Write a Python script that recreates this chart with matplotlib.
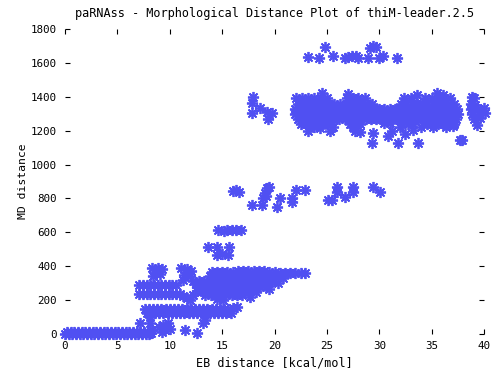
import matplotlib
matplotlib.use("Agg")
import matplotlib.pyplot as plt

# ---------------- data (EB distance, MD distance) ----------------
band_zero = [(0.0, 0), (0.35, 0), (0.7, 0), (1.05, 0), (1.4, 0), (1.75, 0), (2.1, 0), (2.45, 0),
             (2.8, 0), (3.15, 0), (3.5, 0), (3.85, 0), (4.2, 0), (4.55, 0), (4.9, 0), (5.25, 0),
             (5.6, 0), (5.95, 0), (6.3, 0), (6.65, 0), (7.0, 0), (7.35, 0), (7.7, 0), (8.0, 0),
             (8.2, 5),
             (0.2, 12), (0.55, 12), (0.9, 12), (1.25, 12), (1.6, 12), (1.95, 12), (2.3, 12),
             (2.65, 12), (3.0, 12), (3.35, 12), (3.7, 12), (4.05, 12), (4.4, 12), (4.75, 12),
             (5.1, 12), (5.45, 12), (5.8, 12), (6.15, 12), (6.5, 12), (6.85, 12), (7.2, 12),
             (7.55, 12), (7.9, 12)]

low_scatter = [(7.2, 63), (8.1, 63), (8.3, 24), (9.4, 53), (9.5, 24), (9.8, 65), (9.3, 12),
               (11.5, 24), (12.6, 6), (13.2, 65), (13.4, 83), (8.1, 100), (9.0, 40), (10.0, 30)]

band_135 = [(7.6, 150), (8.0, 150), (8.4, 150), (8.8, 150), (9.2, 150), (9.6, 150), (10.0, 150),
            (10.4, 150), (10.8, 150), (11.2, 150), (11.6, 150), (12.0, 150), (12.4, 150),
            (12.8, 150), (13.2, 150), (13.6, 150), (14.0, 150), (14.4, 150), (14.8, 150),
            (15.2, 150), (15.6, 150), (16.0, 155), (16.4, 160),
            (7.8, 122), (8.2, 122), (8.6, 122), (9.0, 122), (9.4, 122), (9.8, 122), (10.2, 122),
            (10.6, 122), (11.0, 122), (11.4, 122), (11.8, 122), (12.2, 122), (12.6, 122),
            (13.0, 122), (13.4, 122), (13.8, 122), (14.2, 122), (14.6, 122), (15.0, 122),
            (15.4, 122), (15.8, 125),
            (8.0, 136), (9.0, 136), (10.0, 136), (11.0, 136), (12.0, 136), (13.0, 136),
            (14.0, 136), (15.0, 136)]

band_240 = [(7.1, 238), (7.45, 238), (7.8, 238), (8.15, 238), (8.5, 238), (8.85, 238),
            (9.2, 238), (9.55, 238), (9.9, 238), (10.25, 238), (10.6, 238), (10.95, 238),
            (11.3, 225), (11.6, 210), (11.9, 200), (12.2, 230)]

band_290 = [(7.1, 290), (7.45, 290), (7.8, 290), (8.15, 290), (8.5, 290), (8.85, 290),
            (9.2, 290), (9.55, 290), (9.9, 290), (10.25, 290), (10.6, 290)]

small_370 = [(8.3, 390), (8.9, 390), (9.3, 385), (8.6, 360), (9.1, 355), (8.4, 340),
             (11.1, 390), (11.6, 385), (12.0, 370), (11.4, 350), (11.9, 340), (11.3, 320),
             (12.2, 310), (12.5, 295)]

big_cluster = [(14.0, 365), (14.5, 365), (15.0, 368), (15.5, 368), (16.0, 368), (16.5, 370),
               (17.0, 370), (17.5, 370), (18.0, 370), (18.5, 370), (19.0, 370), (19.5, 368),
               (20.0, 365), (20.5, 362), (21.0, 360), (21.5, 360), (22.0, 360), (22.5, 358),
               (22.9, 358),
               (13.8, 340), (14.3, 340), (14.8, 340), (15.3, 340), (15.8, 340), (16.3, 340),
               (16.8, 340), (17.3, 340), (17.8, 340), (18.3, 340), (18.8, 340), (19.3, 340),
               (19.8, 338), (20.3, 335), (20.8, 330),
               (12.8, 310), (13.3, 310), (13.8, 310), (14.3, 310), (14.8, 310), (15.3, 310),
               (15.8, 310), (16.3, 310), (16.8, 310), (17.3, 310), (17.8, 310), (18.3, 310),
               (18.8, 310), (19.3, 308), (19.8, 305), (20.3, 300),
               (12.6, 280), (13.1, 285), (13.6, 280), (14.1, 280), (14.6, 280), (15.1, 280),
               (15.6, 280), (16.1, 280), (16.6, 280), (17.1, 280), (17.6, 280), (18.1, 280),
               (18.6, 278), (19.2, 275),
               (12.6, 255), (13.1, 255), (13.6, 255), (14.1, 255), (14.6, 255), (15.1, 255),
               (15.6, 255), (16.1, 255), (16.6, 255), (17.1, 255), (17.6, 255), (18.2, 250),
               (13.4, 228), (13.9, 228), (14.4, 228), (14.9, 228), (15.4, 228), (15.9, 228),
               (16.4, 228), (16.9, 228), (17.7, 218), (15.1, 200), (14.5, 205), (19.5, 265)]

mid_500 = [(13.65, 514), (14.5, 514), (15.7, 514), (14.5, 466), (15.0, 470), (15.6, 466),
           (14.6, 614), (15.5, 614), (15.9, 614), (16.3, 614), (16.8, 614), (15.2, 610)]

mid_800 = [(16.0, 845), (16.3, 850), (16.6, 840), (17.85, 760), (18.8, 760), (18.9, 800),
           (19.1, 830), (19.3, 860), (19.5, 870), (19.2, 815), (20.2, 750), (20.5, 800),
           (21.7, 800), (21.7, 780), (22.1, 850), (22.9, 850), (25.1, 790), (25.5, 790),
           (26.0, 840), (26.0, 870), (26.7, 810), (27.5, 870), (27.5, 840), (29.4, 870),
           (30.1, 840)]

main_1300 = [(17.9, 1400), (17.85, 1364), (17.85, 1305), (18.6, 1334), (19.3, 1310),
             (19.8, 1305), (19.4, 1270),
             (22.6, 1390), (23.2, 1390), (23.8, 1390), (24.4, 1390), (25.0, 1390),
             (26.9, 1390), (27.5, 1390), (28.0, 1390), (28.6, 1390), (32.4, 1390),
             (33.0, 1390), (34.4, 1390), (35.0, 1390), (35.6, 1390), (36.2, 1390),
             (36.8, 1390), (39.0, 1390),
             (22.2, 1360), (22.7, 1360), (23.2, 1360), (23.7, 1360), (24.2, 1360), (24.7, 1360),
             (25.2, 1360), (25.7, 1360), (26.3, 1360), (26.8, 1360), (27.3, 1360), (27.8, 1360),
             (28.3, 1360), (28.8, 1360), (29.3, 1360), (32.1, 1360), (32.6, 1360), (33.1, 1360),
             (33.6, 1360), (34.1, 1360), (34.6, 1360), (35.1, 1360), (35.6, 1360), (36.1, 1360),
             (36.6, 1360), (37.1, 1360), (38.8, 1360), (39.1, 1350),
             (22.0, 1330), (22.5, 1330), (23.0, 1330), (23.5, 1330), (24.0, 1330), (24.5, 1330),
             (25.0, 1330), (25.5, 1330), (26.0, 1330), (26.5, 1330), (27.0, 1330), (27.5, 1330),
             (28.0, 1330), (28.5, 1330), (29.0, 1330), (29.5, 1330), (30.0, 1330), (30.5, 1325),
             (31.0, 1325), (31.5, 1330), (32.0, 1330), (32.5, 1330), (33.0, 1330), (33.5, 1330),
             (34.0, 1330), (34.5, 1330), (35.0, 1330), (35.5, 1330), (36.0, 1330), (36.5, 1330),
             (37.0, 1330), (37.4, 1330), (38.8, 1325), (39.4, 1330), (40.0, 1335),
             (22.0, 1300), (22.5, 1300), (23.0, 1300), (23.5, 1300), (24.0, 1300), (24.5, 1300),
             (25.0, 1300), (25.5, 1300), (26.0, 1300), (26.5, 1300), (27.0, 1300), (27.5, 1300),
             (28.0, 1300), (28.5, 1300), (29.0, 1300), (29.5, 1300), (30.0, 1300), (30.5, 1300),
             (31.0, 1300), (31.5, 1300), (32.0, 1300), (32.5, 1300), (33.0, 1300), (33.5, 1300),
             (34.0, 1300), (34.5, 1300), (35.0, 1300), (35.5, 1300), (36.0, 1300), (36.5, 1300),
             (37.0, 1300), (37.5, 1300), (38.9, 1300), (39.5, 1300), (40.1, 1305),
             (22.2, 1270), (22.7, 1270), (23.2, 1270), (23.7, 1270), (24.2, 1270), (24.7, 1270),
             (25.2, 1270), (25.7, 1270), (26.2, 1270), (26.7, 1270), (27.2, 1270), (27.7, 1270),
             (28.2, 1270), (28.7, 1270), (29.2, 1270), (29.7, 1270), (30.2, 1270), (30.7, 1270),
             (31.2, 1270), (31.7, 1270), (32.2, 1270), (32.7, 1270), (33.2, 1270), (33.7, 1270),
             (34.2, 1270), (34.7, 1270), (35.2, 1270), (35.7, 1270), (36.2, 1270), (36.7, 1270),
             (37.3, 1270), (39.0, 1270), (39.6, 1275),
             (22.5, 1240), (23.0, 1240), (23.5, 1240), (24.0, 1240), (24.5, 1240), (25.0, 1240),
             (27.2, 1240), (27.7, 1240), (28.2, 1240), (30.5, 1245), (31.0, 1245), (32.2, 1240),
             (32.7, 1240), (33.2, 1240), (34.6, 1240), (35.1, 1240), (35.6, 1240), (36.1, 1240),
             (36.6, 1240), (37.1, 1240),
             (23.8, 1220), (25.6, 1220), (27.5, 1220), (32.0, 1220), (34.0, 1220), (36.4, 1220)]

outliers_1300 = [(29.3, 1127), (31.8, 1127), (33.7, 1127), (37.7, 1145), (37.9, 1145),
                 (23.2, 1200), (24.3, 1215), (25.3, 1200), (27.7, 1200), (28.2, 1195),
                 (31.2, 1200), (33.2, 1205), (35.1, 1220), (37.0, 1230), (39.3, 1235),
                 (29.4, 1185), (30.8, 1170), (32.5, 1180),
                 (22.1, 1393), (24.5, 1420), (27.0, 1415), (33.6, 1410), (36.1, 1410),
                 (38.9, 1400), (35.5, 1420)]

top_band = [(23.2, 1635), (24.25, 1630), (25.6, 1640), (26.7, 1630), (27.0, 1635), (27.4, 1640),
            (27.8, 1640), (28.0, 1630), (28.9, 1630), (30.0, 1630), (30.4, 1640), (31.7, 1630),
            (24.8, 1694), (29.1, 1690), (29.4, 1700), (29.7, 1695)]

x_ticks = [0, 5, 10, 15, 20, 25, 30, 35, 40]
y_ticks = [0, 200, 400, 600, 800, 1000, 1200, 1400, 1600, 1800]

title = "paRNAss - Morphological Distance Plot of thiM-leader.2.5"
x_label = "EB distance [kcal/mol]"
y_label = "MD distance"

# ---------------- plot ----------------
mono = "DejaVu Sans Mono"
fig = plt.figure(figsize=(4.97, 3.73), dpi=100)
ax = fig.add_axes([65 / 497, 1 - 334 / 373, (484 - 65) / 497, (334 - 29) / 373])

color = "#5050f2"
for cluster in [band_zero, low_scatter, band_135, band_240, band_290, small_370,
                big_cluster, mid_500, mid_800, main_1300, outliers_1300, top_band]:
    xs = [p[0] for p in cluster]
    ys = [p[1] for p in cluster]
    ax.plot(xs, ys, linestyle="none", marker=(8, 2, 0), markersize=8,
            markeredgewidth=1.3, color=color, clip_on=False)

ax.set_xlim(0, 40)
ax.set_ylim(0, 1800)
for s in ax.spines.values():
    s.set_visible(False)
ax.set_xticks(x_ticks)
ax.set_yticks(y_ticks)
ax.set_xticklabels([str(t) for t in x_ticks], fontfamily=mono, fontsize=7.8)
ax.set_yticklabels([str(t) for t in y_ticks], fontfamily=mono, fontsize=7.8)
ax.tick_params(axis="both", direction="in", length=3.6, width=0.8, color="black",
               top=True, right=True, labeltop=False, labelright=False)
ax.tick_params(axis="x", pad=5)
ax.tick_params(axis="y", pad=6)

ax.set_title(title, fontfamily=mono, fontsize=8.6, pad=9)
ax.set_xlabel(x_label, fontfamily=mono, fontsize=8.5, labelpad=4)
ax.set_ylabel(y_label, fontfamily=mono, fontsize=8.2, labelpad=2)

fig.savefig("out.png", dpi=100)
